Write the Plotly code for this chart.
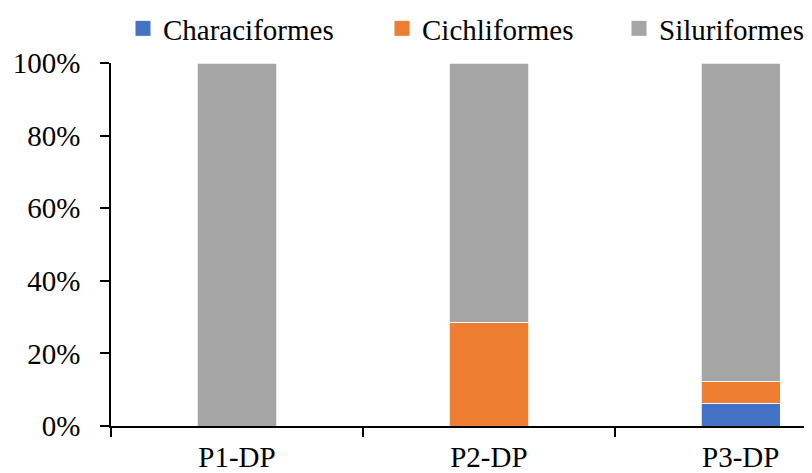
import plotly.graph_objects as go

categories = ["P1-DP", "P2-DP", "P3-DP"]
characiformes = [0.0, 0.0, 6.2]
cichliformes = [0.0, 28.6, 6.1]
siluriformes = [100.0, 71.4, 87.7]
series_names = ["Characiformes", "Cichliformes", "Siluriformes"]
colors = ["#4472C4", "#ED7D31", "#A5A5A5"]
y_ticks = [0, 20, 40, 60, 80, 100]
y_tick_labels = ["0%", "20%", "40%", "60%", "80%", "100%"]

# The page body has an 8px margin, so the figure is drawn 8px smaller
W, H = 804, 465
FONT = "Liberation Serif, Times New Roman, serif"

fig = go.Figure()
legend_ids = ["legend", "legend2", "legend3"]
for name, vals, col, lg in zip(series_names, [characiformes, cichliformes, siluriformes], colors, legend_ids):
    fig.add_trace(go.Bar(
        x=categories, y=vals, name=name,
        marker=dict(color=col, line=dict(color="white", width=0.75)),
        width=0.315, showlegend=False,
    ))
    # legend-only swatch (larger square, like the reference)
    fig.add_trace(go.Scatter(
        x=[None], y=[None], mode="markers", name=name,
        marker=dict(symbol="square", size=15, color=col),
        legend=lg, showlegend=True, hoverinfo="skip",
    ))

legend_x = [115, 374, 611]
leg_common = dict(
    xref="container", yref="container", xanchor="left", yanchor="middle",
    y=1 - 20.5 / H, bgcolor="rgba(0,0,0,0)", borderwidth=0,
    itemsizing="trace",
    font=dict(family=FONT, size=29, color="#000"),
)
layout_legends = {}
for lg, lx in zip(legend_ids, legend_x):
    d = dict(leg_common)
    d["x"] = lx / W
    layout_legends[lg] = d

fig.update_layout(
    width=W, height=H,
    barmode="stack",
    plot_bgcolor="white", paper_bgcolor="white",
    margin=dict(l=103, r=0, t=55, b=47, autoexpand=False),
    font=dict(family=FONT, size=29, color="#000"),
    showlegend=True,
    **layout_legends,
)
fig.update_xaxes(
    type="category",
    range=[-0.5, 2.283],
    showline=True, linecolor="black", linewidth=1.5,
    ticks="outside", tickson="boundaries", ticklen=9, tickcolor="black", tickwidth=1.5,
    showgrid=False, zeroline=False,
    tickfont=dict(family=FONT, size=29, color="#000"),
    ticklabelstandoff=4,
)
fig.update_yaxes(
    range=[0, 100],
    tickvals=y_ticks, ticktext=y_tick_labels,
    showline=True, linecolor="black", linewidth=1.5,
    ticks="outside", ticklen=9, tickcolor="black", tickwidth=1.5,
    showgrid=False, zeroline=False,
    tickfont=dict(family=FONT, size=29, color="#000"),
    ticklabelstandoff=14,
)

fig.write_html("out.html")
